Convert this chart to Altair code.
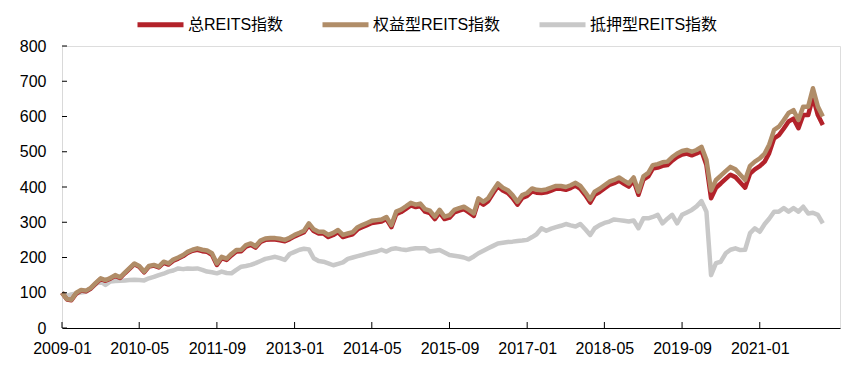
import altair as alt
import pandas as pd

start_month = "2009-01-01"

series_names = ["总REITS指数", "权益型REITS指数", "抵押型REITS指数"]
series_colors = ["#B3222A", "#B08D68", "#C8C8C8"]

total_reits = [
    100, 81, 79, 98, 106, 104, 112, 126, 139, 134,
    140, 148, 142, 156, 168, 181, 174, 158, 174, 177,
    172, 185, 180, 191, 197, 204, 213, 219, 222, 218,
    216, 208, 179, 198, 193, 206, 217, 218, 231, 236,
    228, 244, 250, 251, 251, 249, 246, 252, 260, 266,
    272, 292, 275, 268, 268, 258, 264, 272, 258, 262,
    266, 280, 286, 292, 298, 300, 302, 309, 286, 323,
    329, 338, 348, 343, 346, 330, 326, 309, 328, 309,
    313, 328, 333, 337, 328, 318, 360, 350, 360, 382,
    402, 390, 383, 369, 350, 369, 375, 388, 384, 383,
    385, 390, 395, 395, 392, 397, 404, 395, 377, 356,
    378, 386, 396, 406, 411, 418, 409, 401, 418, 378,
    421, 430, 452, 455, 460, 462, 475, 485, 492, 495,
    490, 495, 503, 462, 368, 398, 410, 423, 435, 428,
    413, 398, 438, 450, 459, 472, 496, 538, 547, 566,
    586, 594, 567, 604, 604, 655, 604, 576,
]

equity_reits = [
    100, 82, 80, 100, 108, 106, 114, 128, 141, 136,
    142, 150, 144, 158, 170, 183, 176, 160, 176, 179,
    174, 188, 183, 194, 200, 207, 216, 222, 226, 222,
    220, 212, 183, 202, 197, 210, 221, 222, 235, 240,
    232, 248, 254, 255, 255, 253, 250, 256, 264, 270,
    276, 297, 280, 273, 273, 264, 270, 278, 264, 268,
    272, 286, 292, 298, 304, 306, 308, 315, 292, 330,
    336, 345, 355, 350, 353, 337, 333, 316, 335, 316,
    320, 335, 340, 344, 335, 325, 368, 358, 368, 390,
    410, 398, 391, 377, 358, 377, 383, 396, 392, 391,
    393, 398, 403, 403, 400, 405, 412, 403, 385, 365,
    387, 395, 405, 415, 420, 427, 418, 410, 427, 387,
    430, 440, 462, 465, 470, 472, 485, 495, 502, 505,
    500, 505, 514, 477, 390, 420, 432, 445, 457, 450,
    435, 420, 460, 472, 481, 495, 520, 562, 571, 590,
    610, 618, 590, 628, 628, 680, 628, 600,
]

mortgage_reits = [
    100, 91, 95, 98, 101, 103, 112, 125, 132, 122,
    132, 133, 134, 135, 136, 137, 136, 135, 141, 145,
    150, 154, 160, 163, 169, 167, 169, 168, 169, 165,
    160, 158, 155, 160, 156, 155, 165, 174, 176, 179,
    184, 190, 196, 199, 202, 198, 193, 210, 216, 222,
    225, 223, 198, 190, 188, 183, 178, 182, 186, 196,
    200, 204, 207, 211, 214, 217, 222, 217, 224, 226,
    223, 221, 224, 226, 226, 226, 217, 219, 221, 214,
    207, 205, 203, 200, 195, 203, 212, 219, 226, 233,
    240, 242, 244, 245, 247, 248, 250, 258, 266, 283,
    276, 282, 286, 290, 295, 291, 288, 295, 280, 264,
    283, 292, 298, 302, 308, 306, 304, 302, 305, 283,
    311, 311, 315, 321, 297, 310, 321, 297, 321, 328,
    335, 345, 360, 330, 150, 184, 188, 212, 222, 226,
    221, 222, 269, 283, 273, 295, 310, 330, 330, 340,
    330, 340, 330, 344, 325, 327, 321, 297,
]

x_tick_labels = ["2009-01", "2010-05", "2011-09", "2013-01", "2014-05",
                 "2015-09", "2017-01", "2018-05", "2019-09", "2021-01"]
y_ticks = [0, 100, 200, 300, 400, 500, 600, 700, 800]

x_domain = ["2009-01-01", "2022-05-20"]

W, H = 778, 282
FONT = "Liberation Sans, Arial, Noto Sans CJK SC"

dates = pd.date_range(start_month, periods=len(total_reits), freq="MS")
frames = []
for name, vals in zip(series_names, [total_reits, equity_reits, mortgage_reits]):
    frames.append(pd.DataFrame({"date": dates, "value": vals, "series": name}))

x_ticks_df = pd.DataFrame({"date": pd.to_datetime([t + "-01" for t in x_tick_labels])})
y_ticks_df = pd.DataFrame({"value": y_ticks})

x_scale = alt.Scale(domain=x_domain)
y_scale = alt.Scale(domain=[0, 800], nice=False)
color_scale = alt.Scale(domain=series_names, range=series_colors)

x_axis = alt.Axis(
    values=[t + "-01" for t in x_tick_labels],
    format="%Y-%m", labelFontSize=16, labelFont=FONT, labelColor="#000",
    tickSize=0, labelPadding=12, domainColor="#000", domainWidth=1,
    grid=False, title=None, labelFlush=False, labelOverlap=False,
)
y_axis = alt.Axis(
    values=y_ticks, labelFontSize=16, labelFont=FONT, labelColor="#000",
    tickSize=0, labelPadding=16, domainColor="#D9D9D9", domainWidth=1,
    grid=False, title=None,
)

legend = alt.Legend(
    title=None, orient="none", direction="horizontal", legendX=73, legendY=-47,
    symbolType="stroke", symbolStrokeWidth=5, symbolSize=2116,
    labelFontSize=16, labelFont=FONT, labelColor="#000", columnPadding=28,
    labelOffset=2, padding=0,
)

def line_layer(df):
    return alt.Chart(df).mark_line(strokeWidth=4.5, strokeJoin="round").encode(
        x=alt.X("date:T", scale=x_scale, axis=x_axis),
        y=alt.Y("value:Q", scale=y_scale, axis=y_axis),
        color=alt.Color("series:N", scale=color_scale, legend=legend),
    )

layers = [line_layer(frames[2]), line_layer(frames[0]), line_layer(frames[1])]

xticks = alt.Chart(x_ticks_df).mark_rule(color="#000", strokeWidth=1).encode(
    x=alt.X("date:T", scale=x_scale, axis=x_axis),
    y=alt.value(H), y2=alt.value(H - 6),
)
yticks = alt.Chart(y_ticks_df).mark_rule(color="#000", strokeWidth=1).encode(
    y=alt.Y("value:Q", scale=y_scale, axis=y_axis),
    x=alt.value(0), x2=alt.value(5),
)

chart = alt.layer(*layers, xticks, yticks).properties(
    width=W, height=H,
    autosize=alt.AutoSizeParams(type="none"),
    padding={"left": 54, "top": 38, "right": 6, "bottom": 40},
).configure_view(stroke=None).configure(background="white")

chart.save("out.html", embed_options={"renderer": "svg", "actions": False})
